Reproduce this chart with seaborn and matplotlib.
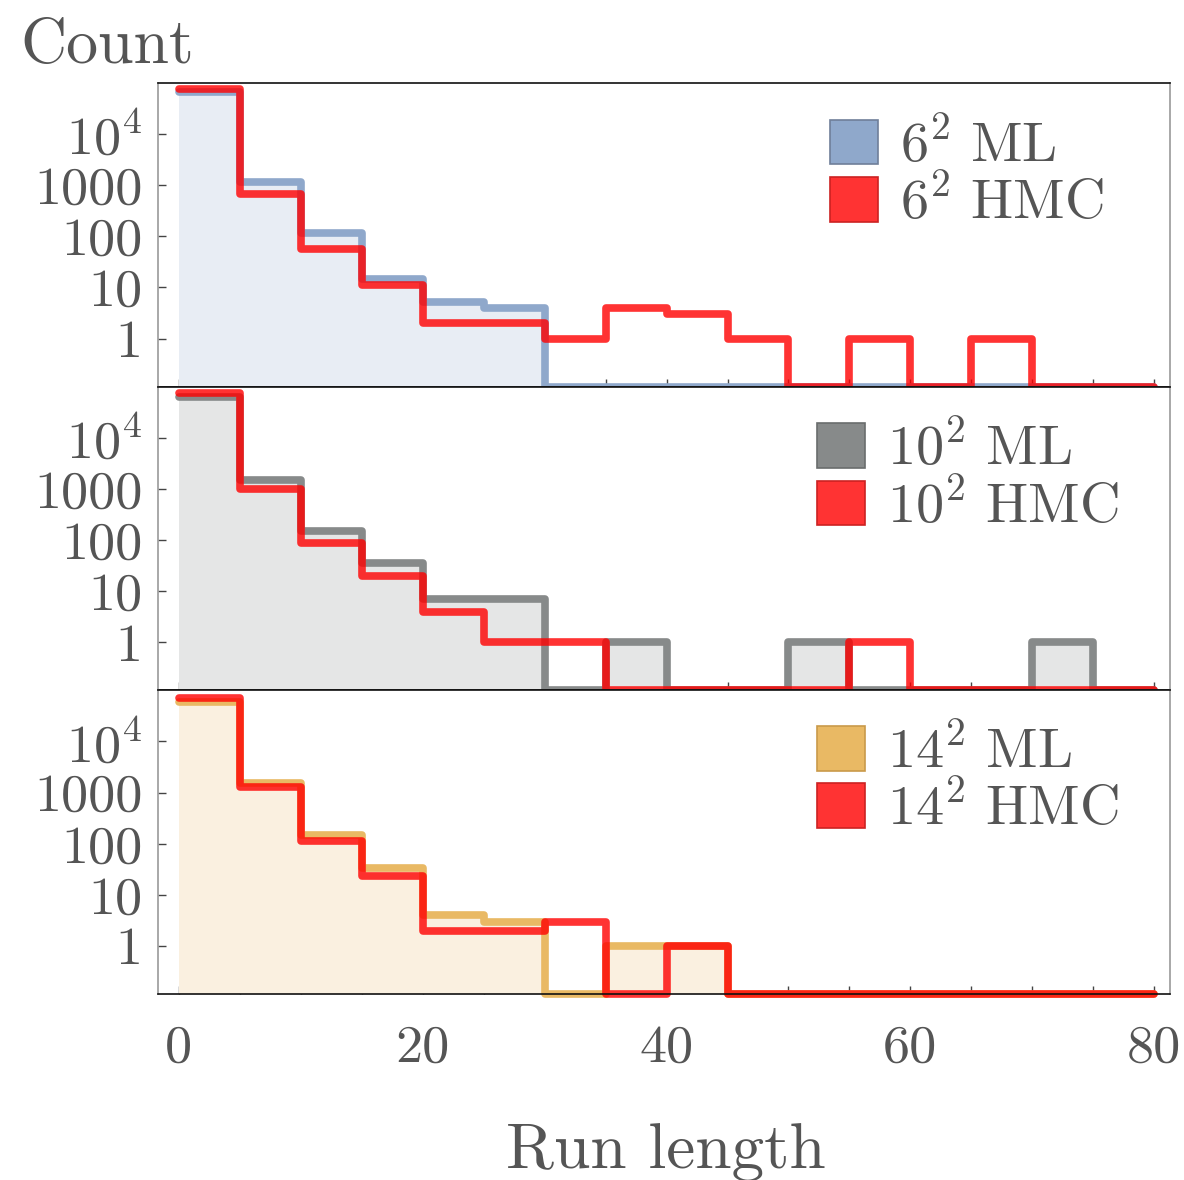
import numpy as np
import pandas as pd
import matplotlib
matplotlib.use("Agg")
import matplotlib.pyplot as plt
from matplotlib.patches import Patch
from matplotlib.ticker import FixedLocator, FuncFormatter
import seaborn as sns

# ---- data ----
bin_edges = list(range(0, 85, 5))  # run-length bins, width 5
lattices = ["6", "10", "14"]
ml_6 = [68000, 1180, 118, 14.4, 5.1, 4, 0, 0, 0, 0, 0, 0, 0, 0, 0, 0]
hmc_6 = [76000, 676, 56, 11.3, 2, 2, 1, 4, 3, 1, 0, 1, 0, 1, 0, 0]
ml_10 = [63500, 1480, 153, 36, 7, 7, 0, 1, 0, 0, 1, 0, 0, 0, 1, 0]
hmc_10 = [74000, 985, 87, 20, 4, 1, 1, 0, 0, 0, 0, 1, 0, 0, 0, 0]
ml_14 = [59700, 1520, 151, 34, 4, 3, 0, 1, 1, 0, 0, 0, 0, 0, 0, 0]
hmc_14 = [69600, 1300, 112, 23, 2, 2, 3, 0, 1, 0, 0, 0, 0, 0, 0, 0]
y_ticks = [1, 10, 100, 1000, 10000]
y_tick_labels = ["1", "10", "100", "1000", r"$10^4$"]
x_label_ticks = [0, 20, 40, 60, 80]

ml_colors = ["#8fa8cb", "#878a8a", "#e9b964"]
ml_edges = ["#6f7f99", "#6a6d6d", "#c99a4a"]
ml_fills = ["#e8edf4", "#e5e6e6", "#faf0e0"]
hmc_color = "#ff0000"

sns.set_style("white")
plt.rcParams["font.family"] = ["serif"]
plt.rcParams["font.serif"] = ["cmr10", "DejaVu Serif"]
plt.rcParams["mathtext.fontset"] = "cm"
plt.rcParams["axes.formatter.use_mathtext"] = True

TXT = "#555555"
FLOOR = 0.115
YTOP = 1.0e5

fig, axes = plt.subplots(3, 1, figsize=(11.84, 11.80), dpi=100, sharex=True)
fig.subplots_adjust(left=0.1334, right=0.9882, bottom=0.1576, top=0.9297, hspace=0)

edges = np.array(bin_edges, dtype=float)
centers = (edges[:-1] + edges[1:]) / 2
legend_x = [0.664, 0.651, 0.651]

for i, (ax, ml, hmc) in enumerate(zip(axes, [ml_6, ml_10, ml_14], [hmc_6, hmc_10, hmc_14])):
    df = pd.DataFrame({
        "run": centers,
        "ml": np.where(np.array(ml, float) > 0, ml, FLOOR),
        "hmc": np.where(np.array(hmc, float) > 0, hmc, FLOOR),
    })
    sns.histplot(data=df, x="run", weights="ml", bins=bin_edges, element="step", fill=True,
                 color=ml_fills[i], alpha=1, linewidth=0, ax=ax, zorder=1)
    sns.histplot(data=df, x="run", weights="ml", bins=bin_edges, element="step", fill=False,
                 color=ml_colors[i], linewidth=5.5, ax=ax, zorder=2, clip_on=False)
    sns.histplot(data=df, x="run", weights="hmc", bins=bin_edges, element="step", fill=False,
                 color=hmc_color, alpha=0.8, linewidth=5.5, ax=ax, zorder=3, clip_on=False)
    ax.set_yscale("log")
    ax.set_ylim(FLOOR, YTOP)
    ax.set_xlim(-1.72, 81.3)
    ax.set_ylabel("")
    ax.set_xlabel("")
    ax.yaxis.set_major_locator(FixedLocator(y_ticks))
    ax.yaxis.set_major_formatter(FuncFormatter(
        lambda v, p: y_tick_labels[y_ticks.index(int(round(v)))] if int(round(v)) in y_ticks else ""))
    ax.yaxis.set_minor_locator(FixedLocator([]))
    ax.xaxis.set_major_locator(FixedLocator(bin_edges))
    ax.xaxis.set_major_formatter(FuncFormatter(
        lambda v, p: f"{int(round(v))}" if int(round(v)) in x_label_ticks else ""))
    ax.tick_params(axis="both", which="major", direction="in", length=6, width=1.0,
                   color="#444444", labelcolor=TXT, labelsize=39)
    ax.tick_params(axis="y", pad=11, left=True)
    ax.tick_params(axis="x", pad=22, bottom=True)
    for side in ["left", "right"]:
        ax.spines[side].set_color("#999999")
        ax.spines[side].set_linewidth(1.2)
    ax.spines["top"].set_color("#111111")
    ax.spines["top"].set_linewidth(1.2)
    ax.spines["bottom"].set_color("#111111")
    ax.spines["bottom"].set_linewidth(1.2)
    ax.spines["bottom"].set_zorder(4)
    lab = lattices[i]
    handles = [
        Patch(facecolor=ml_colors[i], edgecolor=ml_edges[i], linewidth=1.2),
        Patch(facecolor="#ff3333", edgecolor="#cc2222", linewidth=1.2),
    ]
    ax.legend(handles=handles,
              labels=[rf"${lab}^2\ \mathrm{{ML}}$", rf"${lab}^2\ \mathrm{{HMC}}$"],
              loc="upper left", bbox_to_anchor=(legend_x[i], 0.885), frameon=False,
              fontsize=40.5, handlelength=0.85, handleheight=0.85, handletextpad=0.4,
              labelspacing=0.05, borderpad=0, borderaxespad=0, labelcolor=TXT)

for ax in axes[:-1]:
    ax.tick_params(axis="x", labelbottom=False)

fig.text(20 / 1184, 1 - 63 / 1180, "Count", ha="left", va="baseline", fontsize=46, color=TXT)
fig.text(666 / 1184, 1 - 1168 / 1180, "Run length", ha="center", va="baseline", fontsize=47, color=TXT)

fig.savefig("out.png", dpi=100)
